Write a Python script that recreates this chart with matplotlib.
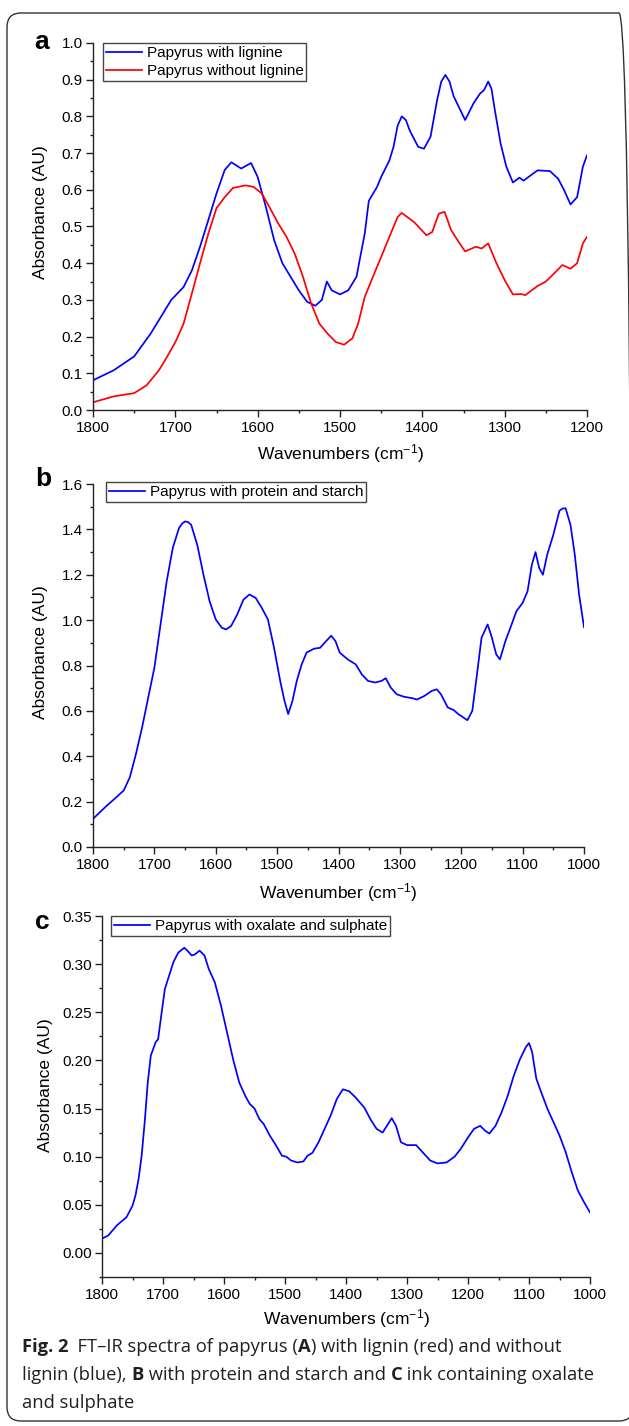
import matplotlib
matplotlib.use("Agg")
import matplotlib.pyplot as plt
from matplotlib.ticker import MultipleLocator, FormatStrFormatter
from matplotlib.patches import FancyBboxPatch
from matplotlib.transforms import IdentityTransform

# ---------------- data ----------------
wn_a_blue = [1800, 1775, 1750, 1730, 1715, 1705, 1690, 1680, 1670, 1660, 1650, 1640, 1632, 1620,
             1608, 1600, 1590, 1580, 1570, 1560, 1550, 1540, 1530, 1522, 1516, 1510, 1500, 1490,
             1480, 1470, 1465, 1455, 1450, 1440, 1435, 1430, 1425, 1420, 1415, 1405, 1398, 1390,
             1382, 1377, 1372, 1367, 1362, 1348, 1338, 1330, 1325, 1320, 1316, 1312, 1305, 1298,
             1290, 1282, 1277, 1268, 1260, 1245, 1235, 1228, 1220, 1212, 1205, 1200]
abs_a_blue = [0.081, 0.108, 0.146, 0.208, 0.263, 0.300, 0.335, 0.380, 0.445, 0.517, 0.590, 0.654,
              0.675, 0.658, 0.673, 0.635, 0.553, 0.463, 0.400, 0.363, 0.326, 0.295, 0.284, 0.300,
              0.350, 0.326, 0.315, 0.326, 0.363, 0.480, 0.570, 0.608, 0.635, 0.680, 0.717, 0.775,
              0.800, 0.790, 0.760, 0.717, 0.712, 0.745, 0.845, 0.895, 0.913, 0.895, 0.855, 0.790,
              0.835, 0.862, 0.872, 0.895, 0.875, 0.818, 0.727, 0.663, 0.620, 0.633, 0.625, 0.640,
              0.653, 0.651, 0.630, 0.600, 0.560, 0.580, 0.663, 0.694]

wn_a_red = [1800, 1775, 1750, 1735, 1720, 1710, 1700, 1690, 1680, 1670, 1660, 1650, 1640, 1630,
            1615, 1605, 1595, 1585, 1575, 1565, 1555, 1545, 1535, 1525, 1515, 1505, 1495, 1485,
            1478, 1470, 1460, 1450, 1440, 1430, 1425, 1410, 1395, 1388, 1380, 1373, 1365, 1355,
            1348, 1335, 1328, 1320, 1310, 1300, 1290, 1280, 1275, 1260, 1250, 1240, 1230, 1220,
            1212, 1205, 1200]
abs_a_red = [0.021, 0.037, 0.046, 0.067, 0.108, 0.145, 0.185, 0.235, 0.317, 0.400, 0.480, 0.550,
             0.580, 0.605, 0.612, 0.608, 0.590, 0.550, 0.508, 0.472, 0.426, 0.363, 0.290, 0.235,
             0.208, 0.185, 0.178, 0.195, 0.235, 0.308, 0.363, 0.417, 0.472, 0.526, 0.537, 0.512,
             0.476, 0.485, 0.535, 0.540, 0.490, 0.455, 0.432, 0.445, 0.440, 0.454, 0.400, 0.354,
             0.315, 0.316, 0.313, 0.338, 0.350, 0.372, 0.395, 0.385, 0.400, 0.454, 0.472]

wn_b = [1800, 1780, 1765, 1750, 1740, 1730, 1720, 1710, 1700, 1690, 1680, 1670, 1660, 1655, 1650,
        1645, 1640, 1630, 1620, 1610, 1600, 1590, 1583, 1575, 1565, 1555, 1545, 1535, 1525, 1515,
        1505, 1495, 1488, 1482, 1475, 1468, 1460, 1452, 1440, 1430, 1420, 1412, 1405, 1398, 1385,
        1372, 1362, 1352, 1340, 1330, 1323, 1315, 1305, 1293, 1280, 1272, 1260, 1248, 1240, 1233,
        1222, 1212, 1205, 1190, 1182, 1175, 1167, 1157, 1150, 1143, 1137, 1128, 1120, 1110, 1100,
        1092, 1085, 1079, 1073, 1067, 1060, 1050, 1040, 1035, 1030, 1022, 1015, 1008, 1000]
abs_b = [0.124, 0.176, 0.212, 0.249, 0.307, 0.410, 0.527, 0.659, 0.790, 0.980, 1.170, 1.318, 1.405,
         1.425, 1.435, 1.432, 1.420, 1.330, 1.200, 1.083, 1.003, 0.966, 0.959, 0.974, 1.025, 1.090,
         1.113, 1.098, 1.054, 1.003, 0.878, 0.732, 0.644, 0.586, 0.644, 0.732, 0.805, 0.857, 0.874,
         0.878, 0.908, 0.931, 0.908, 0.857, 0.827, 0.805, 0.761, 0.732, 0.725, 0.732, 0.744, 0.703,
         0.673, 0.662, 0.656, 0.650, 0.666, 0.688, 0.695, 0.673, 0.615, 0.603, 0.586, 0.559, 0.600,
         0.747, 0.922, 0.981, 0.922, 0.849, 0.827, 0.908, 0.966, 1.040, 1.076, 1.127, 1.244, 1.300,
         1.230, 1.200, 1.288, 1.376, 1.482, 1.492, 1.493, 1.420, 1.288, 1.113, 0.969]

wn_c = [1800, 1790, 1775, 1760, 1750, 1745, 1740, 1735, 1730, 1725, 1720, 1712, 1708, 1703, 1697,
        1690, 1683, 1675, 1665, 1660, 1653, 1648, 1640, 1632, 1625, 1615, 1605, 1595, 1585, 1575,
        1565, 1558, 1550, 1542, 1535, 1525, 1515, 1505, 1498, 1490, 1480, 1470, 1463, 1455, 1445,
        1435, 1425, 1415, 1405, 1395, 1385, 1370, 1360, 1350, 1340, 1333, 1325, 1318, 1310, 1300,
        1285, 1275, 1262, 1250, 1235, 1222, 1212, 1200, 1190, 1180, 1172, 1165, 1155, 1145, 1135,
        1125, 1115, 1105, 1100, 1095, 1088, 1080, 1070, 1060, 1050, 1040, 1030, 1020, 1010, 1000]
abs_c = [0.0149, 0.018, 0.029, 0.037, 0.049, 0.060, 0.077, 0.101, 0.136, 0.177, 0.205, 0.219, 0.222,
         0.246, 0.274, 0.288, 0.302, 0.312, 0.317, 0.314, 0.309, 0.310, 0.314, 0.309, 0.295, 0.281,
         0.257, 0.229, 0.201, 0.177, 0.163, 0.155, 0.150, 0.139, 0.134, 0.122, 0.112, 0.101, 0.100,
         0.096, 0.094, 0.095, 0.101, 0.104, 0.115, 0.129, 0.143, 0.160, 0.170, 0.168, 0.162, 0.151,
         0.139, 0.129, 0.125, 0.132, 0.140, 0.132, 0.115, 0.112, 0.112, 0.105, 0.096, 0.093, 0.094,
         0.100, 0.108, 0.120, 0.129, 0.132, 0.127, 0.124, 0.132, 0.146, 0.163, 0.184, 0.201, 0.214,
         0.218, 0.209, 0.181, 0.167, 0.150, 0.136, 0.122, 0.105, 0.084, 0.065, 0.053, 0.042]

label_a_blue = "Papyrus with lignine"
label_a_red = "Papyrus without lignine"
label_b = "Papyrus with protein and starch"
label_c = "Papyrus with oxalate and sulphate"

caption_lines = [
    [("Fig. 2", True), ("  FT\u2013IR spectra of papyrus (", False), ("A", True),
     (") with lignin (red) and without", False)],
    [("lignin (blue), ", False), ("B", True), (" with protein and starch and ", False),
     ("C", True), (" ink containing oxalate", False)],
    [("and sulphate", False)],
]

# ---------------- style ----------------
plt.rcParams['font.family'] = ['Liberation Sans', 'DejaVu Sans']
plt.rcParams['mathtext.fontset'] = 'custom'
plt.rcParams['mathtext.rm'] = 'Liberation Sans'
plt.rcParams['mathtext.it'] = 'Liberation Sans'

W, H = 629, 1426
fig = plt.figure(figsize=(W / 100, H / 100), dpi=100)
fig.patch.set_facecolor('white')


def fx(x):
    return x / W


def fy(y):
    return 1 - y / H


def make_ax(l, t, r, b):
    return fig.add_axes([fx(l), fy(b), (r - l) / W, (b - t) / H])


SPINE = '#222222'
BLUE = '#0000ff'
RED = '#ff0000'
LW = 1.25


def style_ax(ax, xlim, ylim, xmaj, xmin, ymaj, ymin, yfmt):
    ax.set_xlim(*xlim)
    ax.set_ylim(*ylim)
    for s in ['top', 'right']:
        ax.spines[s].set_visible(False)
    for s in ['left', 'bottom']:
        ax.spines[s].set_color(SPINE)
        ax.spines[s].set_linewidth(1.0)
    ax.xaxis.set_major_locator(MultipleLocator(xmaj))
    ax.xaxis.set_minor_locator(MultipleLocator(xmin))
    ax.yaxis.set_major_locator(MultipleLocator(ymaj))
    ax.yaxis.set_minor_locator(MultipleLocator(ymin))
    ax.yaxis.set_major_formatter(FormatStrFormatter(yfmt))
    ax.tick_params(which='major', direction='out', length=5, width=1.0, color=SPINE,
                   labelsize=11)
    ax.tick_params(axis='x', which='major', pad=3)
    ax.tick_params(axis='y', which='major', pad=2.5)
    ax.tick_params(which='minor', direction='out', length=2.5, width=1.0, color=SPINE)


def legend(ax, x_px, y_px):
    lg = ax.legend(loc='upper left', bbox_to_anchor=(fx(x_px), fy(y_px)),
                   bbox_transform=fig.transFigure, fontsize=11, frameon=True, fancybox=False,
                   handlelength=2.35, handletextpad=0.3, borderpad=0.2, labelspacing=0.25,
                   borderaxespad=0)
    fr = lg.get_frame()
    fr.set_edgecolor('#444444')
    fr.set_linewidth(1.0)
    fr.set_facecolor('white')
    fr.set_alpha(1)
    return lg


XLAB = 'Wavenumbers (cm$^{-1}$)'

# Panel a
ax_a = make_ax(93, 43, 587, 410)
ax_a.plot(wn_a_blue, abs_a_blue, color=BLUE, lw=LW, label=label_a_blue)
ax_a.plot(wn_a_red, abs_a_red, color=RED, lw=LW, label=label_a_red)
style_ax(ax_a, (1800, 1200), (0, 1.0), 100, 50, 0.1, 0.05, '%.1f')
legend(ax_a, 103, 43)
fig.text(fx(340), fy(454), XLAB, ha='center', va='center', fontsize=12.5)
fig.text(fx(41), fy(212), 'Absorbance (AU)', ha='center', va='center', rotation=90, fontsize=12.5)
fig.text(fx(42), fy(42), 'a', ha='center', va='center', fontsize=19, fontweight='bold')

# Panel b
ax_b = make_ax(93, 484, 584, 847)
ax_b.plot(wn_b, abs_b, color=BLUE, lw=LW, label=label_b)
style_ax(ax_b, (1800, 1000), (0, 1.6), 100, 50, 0.2, 0.1, '%.1f')
legend(ax_b, 106, 482)
fig.text(fx(338), fy(893), 'Wavenumber (cm$^{-1}$)', ha='center', va='center', fontsize=12.5)
fig.text(fx(41), fy(652), 'Absorbance (AU)', ha='center', va='center', rotation=90, fontsize=12.5)
fig.text(fx(43), fy(479), 'b', ha='center', va='center', fontsize=19, fontweight='bold')

# Panel c
ax_c = make_ax(102, 916, 590, 1277)
ax_c.plot(wn_c, abs_c, color=BLUE, lw=LW, label=label_c)
style_ax(ax_c, (1800, 1000), (-0.025, 0.35), 100, 50, 0.05, 0.025, '%.2f')
legend(ax_c, 111, 916)
fig.text(fx(346), fy(1319), XLAB, ha='center', va='center', fontsize=12.5)
fig.text(fx(46), fy(1085), 'Absorbance (AU)', ha='center', va='center', rotation=90, fontsize=12.5)
fig.text(fx(42), fy(922), 'c', ha='center', va='center', fontsize=19, fontweight='bold')

# Rounded frame around the figure
frame = FancyBboxPatch((7, H - 1421), 626, 1408, boxstyle='round,pad=0,rounding_size=14',
                       transform=IdentityTransform(), facecolor='none', edgecolor='#333333',
                       linewidth=1.0, clip_on=False)
fig.patches.append(frame)

# Caption with mixed bold runs
CAP_FAMILY = ['Open Sans', 'DejaVu Sans']
renderer = fig.canvas.get_renderer()


def run_width(s, bold, size):
    t1 = fig.text(0, 0, s + '|', fontsize=size, fontweight='bold' if bold else 'normal',
                  family=CAP_FAMILY)
    t2 = fig.text(0, 0, '|', fontsize=size, fontweight='bold' if bold else 'normal',
                  family=CAP_FAMILY)
    w = t1.get_window_extent(renderer).width - t2.get_window_extent(renderer).width
    t1.remove()
    t2.remove()
    return w


base = 12.0
w2 = sum(run_width(s, b, base) for s, b in caption_lines[1])
cap_size = base * 572.0 / w2

cap_y = [1345, 1373, 1401]
for line, yy in zip(caption_lines, cap_y):
    x = 22.0
    for s, b in line:
        fig.text(fx(x), fy(yy), s, fontsize=cap_size, fontweight='bold' if b else 'normal',
                 family=CAP_FAMILY, ha='left', va='center_baseline', color='#231f20')
        x += run_width(s, b, cap_size)

fig.savefig('out.png', dpi=100, facecolor='white')
